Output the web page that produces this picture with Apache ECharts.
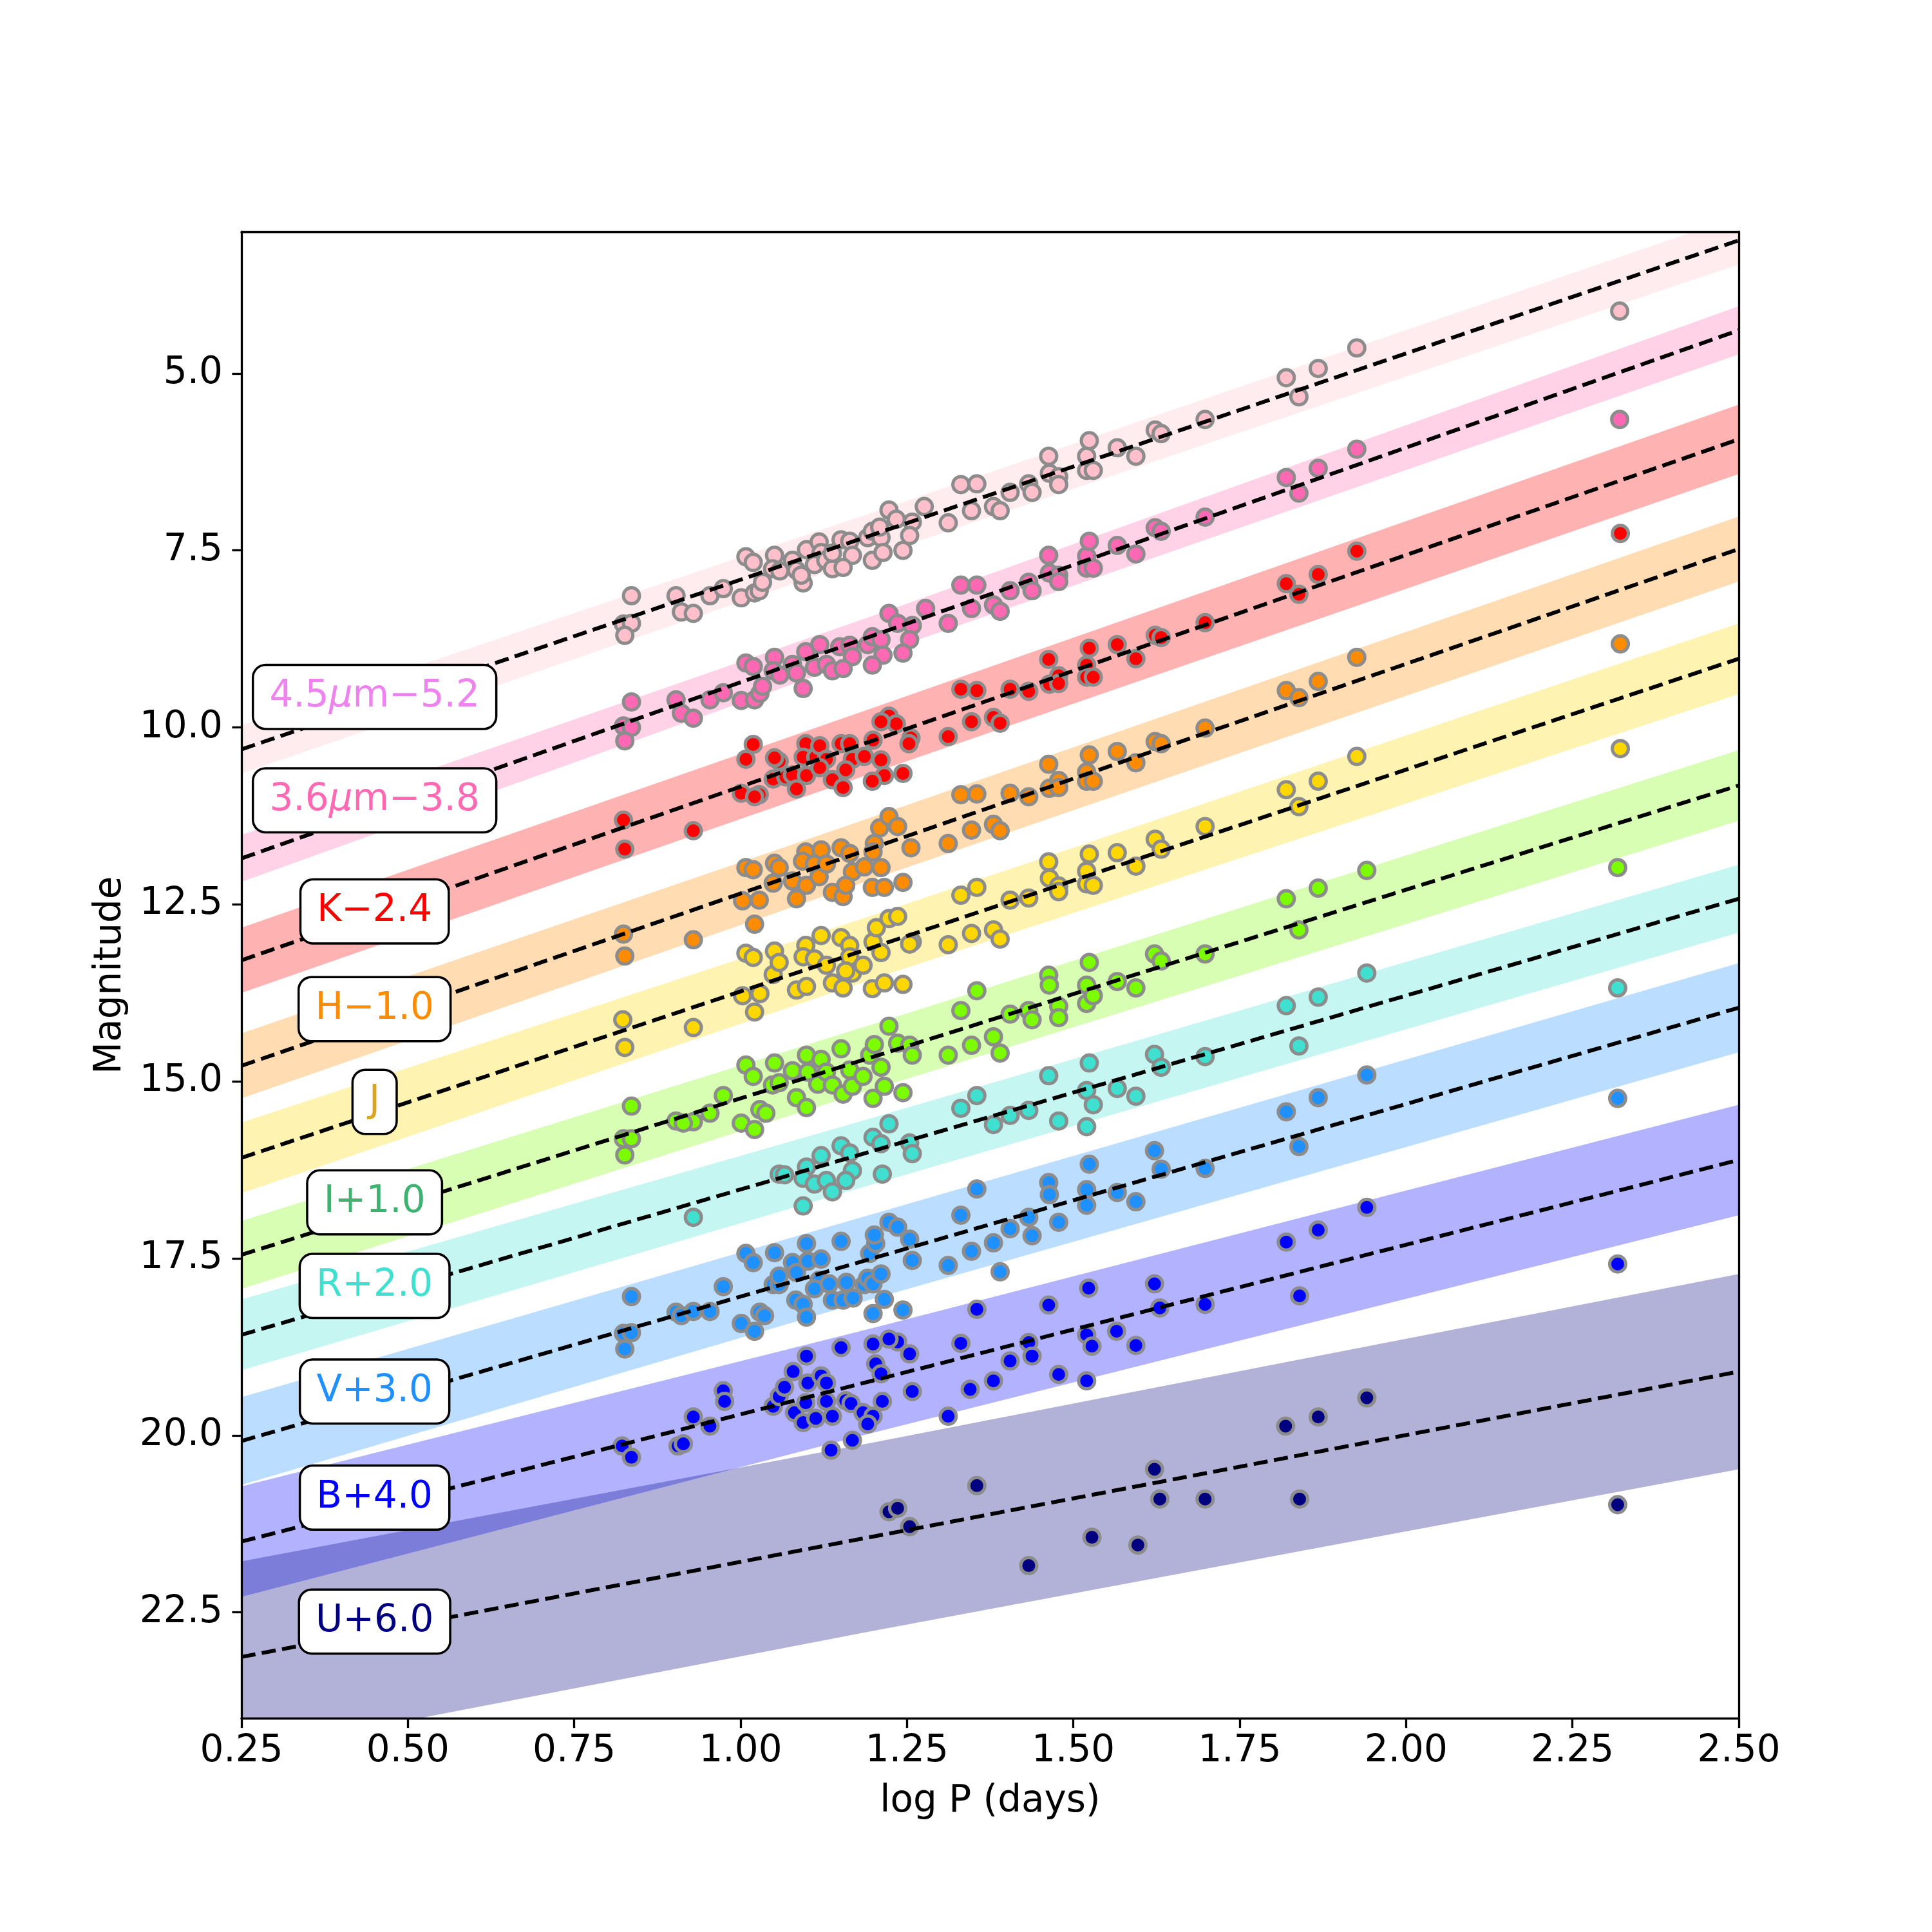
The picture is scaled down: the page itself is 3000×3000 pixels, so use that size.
<!DOCTYPE html>
<html><head><meta charset="utf-8">
<script src="https://cdn.jsdelivr.net/npm/echarts@6/dist/echarts.min.js"></script>
<style>html,body{margin:0;padding:0;background:#fff}#c{width:3000px;height:3000px}</style>
</head><body><div id="c"></div>
<script>
// ---------- data ----------
const xTickValues = [0.25,0.5,0.75,1.0,1.25,1.5,1.75,2.0,2.25,2.5];
const yTickValues = [5.0,7.5,10.0,12.5,15.0,17.5,20.0,22.5];

const bandNames = ['4.5um','3.6um','K','H','J','I','R','V','B','U'];
const labelTexts = ['4.5{it|μ}m−5.2','3.6{it|μ}m−3.8','K−2.4','H−1.0','J','I+1.0','R+2.0','V+3.0','B+4.0','U+6.0'];
const labelLogP = [0.45,0.45,0.45,0.45,0.45,0.45,0.45,0.45,0.45,0.45];
const labelMag = [9.57,11.03,12.60,13.98,15.29,16.71,17.89,19.38,20.88,22.63];

// fitted lines: magnitude at logP = 0.25 and 2.5
const lineLogP = [0.25, 2.5];
const lineStartMag = [10.31,11.85,13.29,14.78,16.08,17.45,18.58,20.08,21.50,23.13];
const lineEndMag   = [3.12, 4.39, 5.93, 7.48, 9.03,10.82,12.42,13.96,16.11,19.10];

// prediction bands: upper / lower edge magnitudes at bandLogP
const bandLogP = [0.25, 1.2, 2.5];
const bandUpper = [
  [9.97,6.96,2.78],[11.52,8.42,4.05],[12.83,9.72,5.44],[14.32,11.26,7.02],[15.58,12.65,8.53],
  [16.97,14.19,10.32],[18.08,15.51,11.94],[19.46,16.87,13.33],[20.72,18.48,15.33],[21.78,20.10,17.72]];
const bandLower = [
  [10.65,7.58,3.46],[12.18,8.98,4.73],[13.75,10.64,6.42],[15.24,12.14,7.94],[16.58,13.55,9.53],
  [17.93,15.11,11.32],[19.08,16.45,12.90],[20.70,18.07,14.59],[22.28,19.96,16.89],[24.48,22.76,20.48]];

const pts45 = [[0.836,8.14],[0.824,8.54],[0.836,8.53],[0.826,8.70],[0.903,8.14],[0.911,8.37],[0.929,8.39],[0.954,8.14],[0.974,8.04],[1.001,8.17],[1.021,8.10],[1.028,8.07],[1.033,7.95],[1.008,7.59],[1.019,7.67],[1.051,7.57],[1.048,7.76],[1.059,7.79],[1.078,7.64],[1.084,7.78],[1.094,7.96],[1.099,7.49],[1.118,7.38],[1.121,7.53],[1.111,7.70],[1.128,7.64],[1.138,7.76],[1.151,7.35],[1.164,7.37],[1.168,7.57],[1.154,7.74],[1.191,7.32],[1.198,7.23],[1.211,7.32],[1.209,7.17],[1.198,7.64],[1.214,7.53],[1.223,6.93],[1.234,7.06],[1.258,7.10],[1.254,7.29],[1.244,7.50],[1.276,6.88],[1.138,7.54],[1.091,7.85],
  [1.312,7.11],[1.347,6.94],[1.331,6.57],[1.355,6.56],[1.380,6.88],[1.390,6.94],[1.405,6.68],[1.433,6.56],[1.438,6.68],[1.463,6.17],[1.464,6.41],[1.478,6.46],[1.478,6.57],[1.520,6.37],[1.520,6.17],[1.524,5.95],[1.530,6.37],[1.566,6.05],[1.594,6.17],[1.623,5.80],[1.632,5.85],[1.698,5.65],[1.820,5.06],[1.839,5.33],[1.868,4.93],[1.926,4.64],[2.321,4.12]];
const pts36 = [[0.836,9.64],[0.824,9.98],[0.836,10.00],[0.826,10.19],[0.903,9.61],[0.911,9.80],[0.929,9.87],[0.954,9.61],[0.974,9.51],[1.001,9.62],[1.021,9.61],[1.029,9.52],[1.033,9.42],[1.008,9.09],[1.019,9.14],[1.051,9.01],[1.049,9.20],[1.059,9.26],[1.078,9.11],[1.084,9.23],[1.094,9.45],[1.098,8.93],[1.119,8.83],[1.111,9.15],[1.129,9.11],[1.138,9.20],[1.149,8.86],[1.164,8.84],[1.168,9.00],[1.154,9.17],[1.191,8.83],[1.198,8.72],[1.211,8.76],[1.214,8.98],[1.198,9.12],[1.223,8.39],[1.236,8.53],[1.258,8.56],[1.254,8.76],[1.244,8.95],[1.278,8.32],
  [1.312,8.53],[1.347,8.32],[1.331,7.99],[1.355,7.99],[1.380,8.27],[1.390,8.36],[1.405,8.07],[1.433,7.95],[1.438,8.07],[1.463,7.57],[1.464,7.82],[1.478,7.85],[1.478,7.94],[1.520,7.75],[1.520,7.58],[1.524,7.37],[1.530,7.75],[1.566,7.43],[1.594,7.55],[1.623,7.18],[1.632,7.23],[1.698,7.03],[1.820,6.47],[1.839,6.69],[1.868,6.34],[1.926,6.07],[2.321,5.65]];
const ptsK = [[0.824,11.31],[0.826,11.72],[0.929,11.46],[1.001,10.93],[1.028,10.95],[1.021,10.98],[1.019,10.24],[1.008,10.45],[1.049,10.73],[1.058,10.48],[1.051,10.43],[1.068,10.70],[1.078,10.67],[1.084,10.87],[1.098,10.23],[1.099,10.68],[1.094,10.42],[1.113,10.42],[1.119,10.26],[1.129,10.45],[1.119,10.57],[1.138,10.74],[1.151,10.23],[1.164,10.23],[1.168,10.45],[1.158,10.60],[1.154,10.85],[1.186,10.41],[1.199,10.18],[1.211,10.46],[1.216,10.68],[1.198,10.76],[1.244,10.65],[1.256,10.15],[1.253,10.23],[1.223,9.84],[1.234,9.95],[1.211,9.92],
  [1.312,10.13],[1.347,9.92],[1.331,9.46],[1.355,9.48],[1.380,9.86],[1.390,9.94],[1.405,9.46],[1.433,9.49],[1.463,9.04],[1.464,9.39],[1.478,9.27],[1.478,9.38],[1.520,9.12],[1.520,9.29],[1.524,8.88],[1.530,9.29],[1.566,8.83],[1.594,9.03],[1.623,8.70],[1.632,8.73],[1.698,8.52],[1.820,7.97],[1.839,8.12],[1.868,7.84],[1.926,7.51],[2.322,7.26]];
const ptsH = [[0.824,12.92],[0.826,13.23],[0.929,13.00],[1.021,12.78],[1.003,12.45],[1.028,12.44],[1.008,11.98],[1.019,12.01],[1.049,12.20],[1.051,11.92],[1.058,11.98],[1.078,12.17],[1.084,12.42],[1.098,11.76],[1.099,12.23],[1.093,11.89],[1.111,11.93],[1.121,11.73],[1.118,12.11],[1.129,11.93],[1.138,12.33],[1.151,11.70],[1.164,11.78],[1.168,12.04],[1.154,12.39],[1.158,12.23],[1.186,11.97],[1.201,11.64],[1.199,11.76],[1.211,11.98],[1.198,12.26],[1.216,12.26],[1.209,11.42],[1.223,11.26],[1.236,11.40],[1.256,11.70],[1.244,12.19],
  [1.312,11.64],[1.347,11.45],[1.331,10.95],[1.355,10.94],[1.380,11.37],[1.390,11.46],[1.405,10.93],[1.433,10.98],[1.463,10.52],[1.464,10.86],[1.478,10.75],[1.478,10.85],[1.520,10.63],[1.520,10.76],[1.524,10.39],[1.530,10.76],[1.566,10.34],[1.594,10.50],[1.623,10.20],[1.632,10.23],[1.698,10.01],[1.820,9.48],[1.839,9.58],[1.868,9.35],[1.926,9.01],[2.322,8.82]];
const ptsJ = [[0.823,14.13],[0.826,14.52],[0.929,14.24],[1.021,14.02],[1.003,13.79],[1.029,13.76],[1.008,13.19],[1.019,13.25],[1.049,13.49],[1.051,13.16],[1.058,13.32],[1.084,13.71],[1.098,13.08],[1.099,13.66],[1.094,13.24],[1.111,13.27],[1.121,12.94],[1.129,13.36],[1.138,13.61],[1.151,12.97],[1.164,13.08],[1.164,13.24],[1.168,13.47],[1.154,13.68],[1.158,13.44],[1.184,13.36],[1.198,13.69],[1.216,13.61],[1.244,13.63],[1.199,13.03],[1.211,13.18],[1.204,12.83],[1.223,12.70],[1.236,12.67],[1.258,13.03],[1.254,13.06],
  [1.312,13.07],[1.347,12.91],[1.331,12.37],[1.355,12.26],[1.380,12.86],[1.390,12.99],[1.405,12.44],[1.433,12.41],[1.463,11.90],[1.464,12.13],[1.478,12.24],[1.478,12.32],[1.520,12.03],[1.520,12.21],[1.524,11.79],[1.530,12.23],[1.566,11.77],[1.594,11.96],[1.623,11.58],[1.632,11.72],[1.698,11.40],[1.820,10.88],[1.839,11.12],[1.868,10.76],[1.926,10.41],[2.322,10.30]];
const ptsI = [[0.836,15.35],[0.824,15.81],[0.836,15.81],[0.826,16.04],[0.903,15.56],[0.929,15.57],[0.914,15.59],[0.954,15.45],[0.974,15.20],[1.001,15.59],[1.021,15.68],[1.029,15.40],[1.038,15.45],[1.008,14.77],[1.019,14.93],[1.051,14.74],[1.048,15.05],[1.058,15.02],[1.078,14.85],[1.084,15.23],[1.099,15.37],[1.099,14.63],[1.121,14.69],[1.101,14.87],[1.116,15.04],[1.129,14.87],[1.138,15.05],[1.154,15.18],[1.151,14.54],[1.164,14.84],[1.168,15.07],[1.184,14.93],[1.194,14.63],[1.201,14.48],[1.211,14.80],[1.199,15.24],[1.216,15.07],[1.223,14.22],[1.236,14.46],[1.254,14.49],[1.258,14.63],[1.244,15.16],
  [1.312,14.63],[1.347,14.49],[1.331,14.00],[1.355,13.72],[1.380,14.37],[1.390,14.60],[1.405,14.05],[1.433,14.00],[1.438,14.13],[1.463,13.50],[1.464,13.64],[1.478,13.94],[1.478,14.10],[1.520,13.64],[1.520,13.90],[1.524,13.32],[1.530,13.79],[1.566,13.59],[1.594,13.68],[1.622,13.20],[1.632,13.30],[1.698,13.20],[1.820,12.42],[1.839,12.86],[1.868,12.27],[1.941,12.02],[2.318,11.98]];
const ptsR = [[0.929,16.92],[1.094,16.76],[1.058,16.31],[1.066,16.32],[1.099,16.21],[1.094,16.37],[1.111,16.45],[1.129,16.40],[1.138,16.56],[1.121,16.05],[1.151,15.91],[1.164,16.01],[1.168,16.26],[1.158,16.40],[1.199,15.79],[1.211,15.88],[1.213,16.31],[1.254,15.87],[1.258,16.02],[1.223,15.60],
  [1.941,13.47],[1.868,13.81],[1.820,13.93],[1.839,14.50],[2.318,13.68],[1.698,14.65],[1.622,14.62],[1.632,14.80],[1.524,14.74],[1.463,14.92],[1.355,15.20],[1.331,15.38],[1.520,15.13],[1.566,15.10],[1.594,15.21],[1.530,15.33],[1.433,15.41],[1.405,15.48],[1.380,15.61],[1.478,15.56],[1.520,15.64]];
const ptsV = [[0.836,18.04],[0.824,18.56],[0.836,18.55],[0.826,18.78],[0.903,18.26],[0.911,18.31],[0.929,18.25],[0.954,18.25],[0.974,17.90],[1.001,18.42],[1.021,18.53],[1.029,18.26],[1.036,18.31],[1.008,17.43],[1.019,17.56],[1.051,17.42],[1.049,17.87],[1.058,17.87],[1.058,17.75],[1.078,17.56],[1.084,17.70],[1.083,18.09],[1.094,18.15],[1.099,18.33],[1.099,17.29],[1.101,17.54],[1.121,17.51],[1.118,17.81],[1.111,17.93],[1.138,18.09],[1.133,17.86],[1.154,18.09],[1.151,17.26],[1.159,17.84],[1.169,18.06],[1.186,17.87],[1.191,17.78],[1.199,17.86],[1.211,17.72],[1.199,18.28],[1.216,18.08],[1.194,17.43],[1.203,17.29],[1.201,17.17],[1.223,16.99],[1.236,17.06],[1.254,17.23],[1.258,17.53],[1.244,18.23],
  [1.941,14.91],[1.868,15.23],[1.820,15.43],[1.839,15.92],[2.318,15.24],[1.698,16.23],[1.622,15.98],[1.632,16.24],[1.524,16.17],[1.463,16.43],[1.464,16.60],[1.355,16.52],[1.520,16.53],[1.566,16.57],[1.594,16.70],[1.520,16.75],[1.331,16.89],[1.433,16.92],[1.478,16.99],[1.405,17.08],[1.438,17.18],[1.380,17.28],[1.347,17.40],[1.312,17.60],[1.390,17.69]];
const ptsB = [[0.822,20.15],[0.836,20.31],[0.906,20.15],[0.914,20.12],[0.929,19.74],[0.954,19.87],[0.974,19.37],[0.976,19.52],[1.049,19.59],[1.058,19.45],[1.066,19.32],[1.079,19.10],[1.099,18.88],[1.101,19.26],[1.121,19.16],[1.129,19.26],[1.081,19.68],[1.094,19.82],[1.098,19.54],[1.113,19.76],[1.129,19.52],[1.138,19.73],[1.151,18.76],[1.158,19.51],[1.166,19.55],[1.136,20.21],[1.168,20.07],[1.184,19.68],[1.199,19.73],[1.191,19.84],[1.213,19.52],[1.203,18.99],[1.211,19.13],[1.199,18.71],[1.236,18.68],[1.254,18.85],[1.258,19.38],[1.223,18.64],
  [1.355,18.22],[1.463,18.16],[1.523,17.92],[1.622,17.86],[1.630,18.20],[1.698,18.15],[1.840,18.03],[1.331,18.70],[1.433,18.69],[1.520,18.58],[1.565,18.53],[1.528,18.74],[1.594,18.73],[1.405,18.95],[1.438,18.88],[1.380,19.23],[1.345,19.35],[1.478,19.14],[1.520,19.23],[1.312,19.73],[1.941,16.78],[1.868,17.10],[1.820,17.27],[2.318,17.58]];
const ptsU = [[1.941,19.47],[1.868,19.74],[1.819,19.87],[2.318,20.98],[1.622,20.48],[1.355,20.71],[1.630,20.90],[1.698,20.90],[1.840,20.90],[1.528,21.44],[1.597,21.55],[1.433,21.84],[1.223,21.08],[1.236,21.03],[1.254,21.29]];

const bandPoints = [pts45, pts36, ptsK, ptsH, ptsJ, ptsI, ptsR, ptsV, ptsB, ptsU];

// ---------- styles ----------
const pointColors = ['#ffc0cb','#ff69b4','#ff0000','#ff8c00','#ffd700','#7cfc00','#40e0d0','#1e90ff','#0000ff','#000080'];
const fillColors = ['rgba(255,192,203,0.3)','rgba(255,105,180,0.3)','rgba(255,0,0,0.3)','rgba(255,140,0,0.3)','rgba(255,215,0,0.3)','rgba(124,252,0,0.3)','rgba(64,224,208,0.3)','rgba(30,144,255,0.3)','rgba(0,0,255,0.3)','rgba(0,0,128,0.3)'];
const labelColors = ['#ee82ee','#ff69b4','#ff0000','#ff8c00','#daa520','#3cb371','#40e0d0','#1e90ff','#0000ff','#000080'];
const FONT = 'DejaVu Sans';

const series = [];
bandNames.forEach((name, i) => {
  series.push({
    type: 'custom', name: name + ' band', z: 1, silent: true, clip: true, animation: false,
    data: [[bandLogP[1], (bandUpper[i][1] + bandLower[i][1]) / 2]],
    renderItem: (params, api) => {
      const pts = [];
      for (let k = 0; k < bandLogP.length; k++) pts.push(api.coord([bandLogP[k], bandUpper[i][k]]));
      for (let k = bandLogP.length - 1; k >= 0; k--) pts.push(api.coord([bandLogP[k], bandLower[i][k]]));
      return { type: 'polygon', shape: { points: pts }, style: { fill: fillColors[i], stroke: null } };
    }
  });
});
bandNames.forEach((name, i) => {
  series.push({
    type: 'scatter', name: name, z: 2, silent: true, animation: false,
    data: bandPoints[i], symbol: 'circle', symbolSize: 25,
    itemStyle: { color: pointColors[i], borderColor: '#8c8c8c', borderWidth: 5, opacity: 1 }
  });
});
bandNames.forEach((name, i) => {
  series.push({
    type: 'line', name: name + ' fit', z: 3, silent: true, animation: false,
    data: [[lineLogP[0], lineStartMag[i]], [lineLogP[1], lineEndMag[i]]],
    showSymbol: false, symbol: 'none',
    lineStyle: { color: '#000', width: 6, type: [22, 10], cap: 'butt', opacity: 1 }
  });
});
series.push({
  type: 'scatter', name: 'labels', z: 5, silent: true, animation: false,
  symbolSize: 1, itemStyle: { color: 'rgba(0,0,0,0)', opacity: 1 },
  data: labelTexts.map((t, i) => ({
    value: [labelLogP[i], labelMag[i]],
    itemStyle: { color: 'rgba(0,0,0,0)', opacity: 1 },
    label: {
      show: true, position: 'inside', formatter: t, opacity: 1,
      color: labelColors[i], fontFamily: FONT, fontSize: 58, lineHeight: 60,
      backgroundColor: '#ffffff', borderColor: '#000', borderWidth: 3.5, borderRadius: 18,
      padding: [18, 24, 18, 24],
      rich: { it: { fontStyle: 'italic', fontFamily: FONT, fontSize: 58, lineHeight: 60, color: labelColors[i] } }
    }
  }))
});

const axisFont = { fontFamily: FONT, fontSize: 58, color: '#000' };
const option = {
  backgroundColor: '#fff',
  animation: false,
  grid: { left: 375, right: 300, top: 360, bottom: 331.5, containLabel: false },
  xAxis: [{
    type: 'value', min: 0.25, max: 2.5, interval: 0.25, z: 10,
    name: 'log P (days)', nameLocation: 'middle', nameGap: 100, nameTextStyle: axisFont,
    axisLine: { show: true, onZero: false, lineStyle: { color: '#000', width: 3.3 } },
    axisTick: { show: true, inside: false, length: 14.6, lineStyle: { color: '#000', width: 3.3 } },
    axisLabel: Object.assign({ margin: 22, formatter: v => v.toFixed(2) }, axisFont),
    splitLine: { show: false }
  }, {
    type: 'value', min: 0.25, max: 2.5, position: 'top', z: 10,
    axisLine: { show: true, onZero: false, lineStyle: { color: '#000', width: 3.3 } },
    axisTick: { show: false }, axisLabel: { show: false }, splitLine: { show: false }
  }],
  yAxis: [{
    type: 'value', min: 3, max: 24, inverse: true, z: 10,
    name: 'Magnitude', nameLocation: 'middle', nameGap: 174, nameTextStyle: axisFont,
    axisLine: { show: true, onZero: false, lineStyle: { color: '#000', width: 3.3 } },
    axisTick: { show: true, inside: false, length: 14.6, customValues: yTickValues, lineStyle: { color: '#000', width: 3.3 } },
    axisLabel: Object.assign({ margin: 29, customValues: yTickValues, formatter: v => Number(v).toFixed(1) }, axisFont),
    splitLine: { show: false }
  }, {
    type: 'value', min: 3, max: 24, inverse: true, position: 'right', z: 10,
    axisLine: { show: true, onZero: false, lineStyle: { color: '#000', width: 3.3 } },
    axisTick: { show: false }, axisLabel: { show: false }, splitLine: { show: false }
  }],
  series: series
};
const chart = echarts.init(document.getElementById('c'), null, { renderer: 'canvas', width: 3000, height: 3000 });
chart.setOption(option);
</script>
</body></html>
